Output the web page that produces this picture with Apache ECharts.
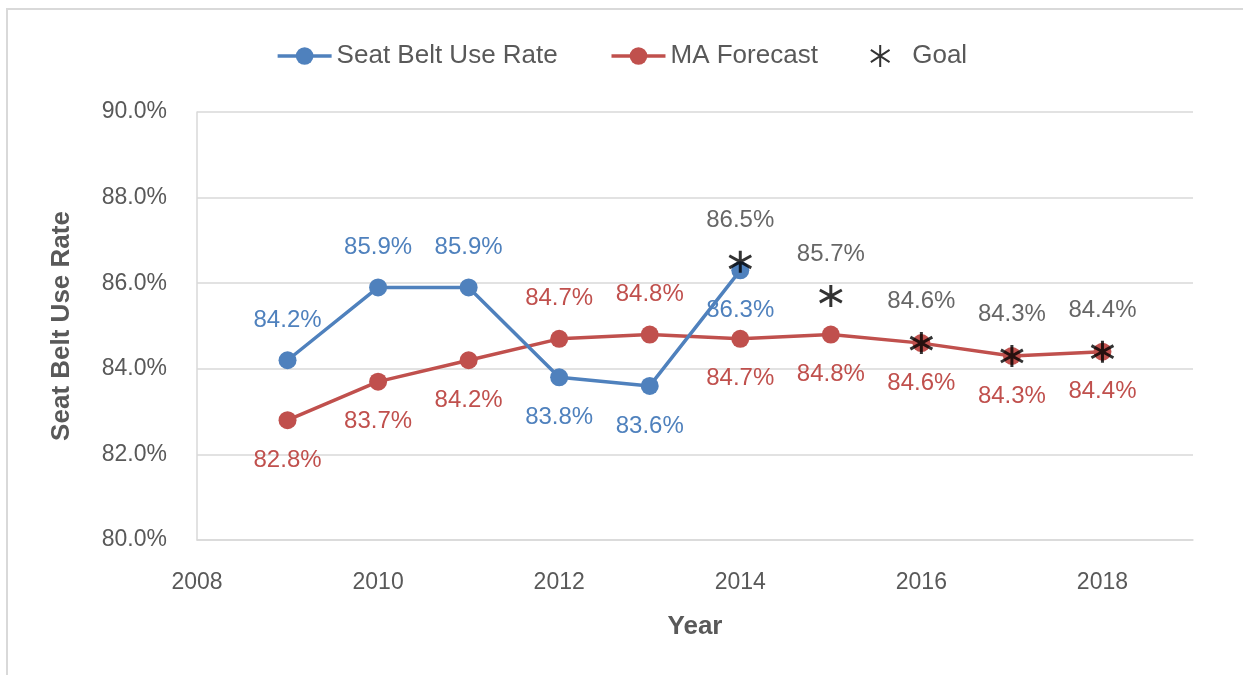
<!DOCTYPE html>
<html>
<head>
<meta charset="utf-8">
<script src="https://cdn.jsdelivr.net/npm/echarts@6/dist/echarts.min.js"></script>
<style>
  html, body { margin: 0; padding: 0; background: #fff; }
  #frame {
    position: absolute; left: 6px; top: 8px; width: 1240px; height: 670px;
    border-top: 2px solid #d9d9d9; border-left: 2px solid #d9d9d9;
  }
  #chart { position: absolute; left: 0; top: 0; width: 1243px; height: 675px; }
</style>
</head>
<body>
<div id="frame"></div>
<div id="chart"></div>
<script>
// ── data ──
const beltYears  = [2009, 2010, 2011, 2012, 2013, 2014]
const beltValues = [84.2, 85.9, 85.9, 83.8, 83.6, 86.3]

const maYears  = [2009, 2010, 2011, 2012, 2013, 2014, 2015, 2016, 2017, 2018]
const maValues = [82.8, 83.7, 84.2, 84.7, 84.8, 84.7, 84.8, 84.6, 84.3, 84.4]

const goalYears  = [2014, 2015, 2016, 2017, 2018]
const goalValues = [86.5, 85.7, 84.6, 84.3, 84.4]

const yTicks = [80, 82, 84, 86, 88, 90]

// label placement (style, kept apart from values)
const beltLabelSide = ['top', 'top', 'top', 'bottom', 'bottom', 'bottom']
const maLabelSide   = ['bottom', 'bottom', 'bottom', 'top', 'top', 'bottom', 'bottom', 'bottom', 'bottom', 'bottom']

const BLUE = '#4f81bd'
const RED  = '#c0504d'
const TEXT = '#595959'
const FONT = '"Liberation Sans", Arial, sans-serif'
const STAR = 'path://M10 0 L10 20 M1.5 4.5 L18.5 15.5 M18.5 4.5 L1.5 15.5'

const pct = v => v.toFixed(1) + '%'

function pts(xs, ys, sides) {
  return xs.map((x, i) => ({
    value: [x, ys[i]],
    label: sides ? { position: sides[i] } : undefined,
  }))
}

const chart = echarts.init(document.getElementById('chart'))

chart.setOption({
  animation: false,
  textStyle: { fontFamily: FONT },
  legend: {
    top: 38,
    left: 'center',
    itemWidth: 54,
    itemHeight: 22,
    itemGap: 52,
    lineStyle: { width: 3.5 },
    textStyle: { fontSize: 26, color: TEXT, fontFamily: FONT },
    data: ['Seat Belt Use Rate', 'MA Forecast', 'Goal'],
  },
  grid: { left: 197, right: 50, top: 112, bottom: 135, containLabel: false },
  xAxis: {
    type: 'value',
    min: 2008, max: 2019, interval: 2,
    name: 'Year',
    nameLocation: 'middle',
    nameGap: 74,
    nameTextStyle: { fontSize: 26, fontWeight: 'bold', color: TEXT },
    axisLine: { show: true, lineStyle: { color: '#d9d9d9', width: 1.5 } },
    axisTick: { show: false },
    splitLine: { show: false },
    axisLabel: {
      color: TEXT, fontSize: 23, margin: 31,
      formatter: v => (v % 2 === 0 ? String(v) : ''),
    },
  },
  yAxis: {
    type: 'value',
    min: yTicks[0], max: yTicks[yTicks.length - 1], interval: 2,
    name: 'Seat Belt Use Rate',
    nameLocation: 'middle',
    nameGap: 122,
    nameTextStyle: { fontSize: 26, fontWeight: 'bold', color: TEXT },
    axisLine: { show: true, lineStyle: { color: '#d9d9d9', width: 1.5 } },
    axisTick: { show: false },
    splitLine: { lineStyle: { color: '#d9d9d9', width: 1.5 } },
    axisLabel: { color: TEXT, fontSize: 23, margin: 30, formatter: pct },
  },
  series: [
    {
      name: 'MA Forecast',
      type: 'line',
      data: pts(maYears, maValues, maLabelSide),
      symbol: 'circle', symbolSize: 18,
      lineStyle: { color: RED, width: 3.5 },
      itemStyle: { color: RED },
      label: {
        show: true, distance: 19, color: RED, fontSize: 24,
        formatter: p => pct(p.value[1]),
      },
      z: 2,
    },
    {
      name: 'Seat Belt Use Rate',
      type: 'line',
      data: pts(beltYears, beltValues, beltLabelSide),
      symbol: 'circle', symbolSize: 18,
      lineStyle: { color: BLUE, width: 3.5 },
      itemStyle: { color: BLUE },
      label: {
        show: true, distance: 19, color: BLUE, fontSize: 24,
        formatter: p => pct(p.value[1]),
      },
      z: 3,
    },
    {
      name: 'Goal',
      type: 'scatter',
      data: pts(goalYears, goalValues),
      symbol: STAR, symbolSize: 22,
      itemStyle: { color: 'rgba(0,0,0,0)', borderColor: '#000', borderWidth: 3 },
      label: {
        show: true, position: 'top', distance: 17, color: '#404040', fontSize: 24,
        formatter: p => pct(p.value[1]),
      },
      z: 4,
    },
  ],
})
</script>
</body>
</html>
